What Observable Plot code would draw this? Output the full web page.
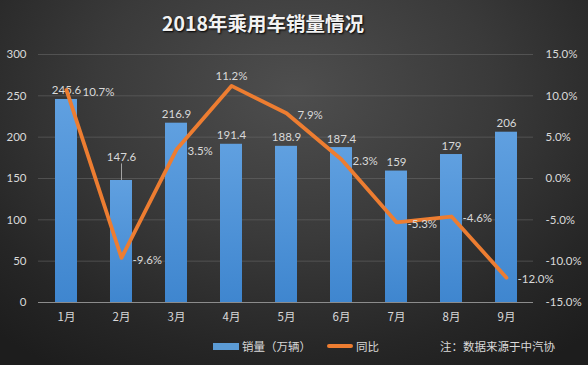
<!DOCTYPE html>
<html>
<head>
<meta charset="utf-8">
<script src="https://cdn.jsdelivr.net/npm/d3@7"></script>
<script src="https://cdn.jsdelivr.net/npm/@observablehq/plot@0.6"></script>
<style>
  html, body { margin: 0; padding: 0; }
  #wrap {
    width: 588px; height: 365px; overflow: hidden; position: relative;
    background: radial-gradient(ellipse 75% 90% at 50% 25%, #4e4e4e 0%, #3a3a3a 45%, #262626 80%, #1d1d1d 100%);
    font-family: Lato, "Noto Sans CJK SC", sans-serif;
  }
  #title {
    height: 40px; line-height: 46px; padding-left: 162px; color: #f2f2f2;
    font-family: "Noto Sans CJK SC", sans-serif; font-weight: bold; font-size: 19.5px;
    text-shadow: 1px 1px 2px #000;
  }
  #chart { height: 290px; }
  #legend {
    position: absolute; top: 336px; left: 0; width: 588px; height: 20px;
    color: #d9d9d9; font-size: 11.5px; font-family: "Noto Sans CJK SC", sans-serif;
  }
  .item { position: absolute; top: 0; display: flex; align-items: center; height: 20px; }
  .sw { display: inline-block; width: 26px; margin-right: 3px; }
</style>
</head>
<body>
<div id="wrap">
  <div id="title">2018年乘用车销量情况</div>
  <div id="chart"></div>
  <div id="legend">
    <div class="item" style="left:213px"><span class="sw" style="height:7px;background:#5b9bd5"></span>销量（万辆）</div>
    <div class="item" style="left:327px"><span class="sw" style="height:4px;background:#ed7d31;border-radius:2px"></span>同比</div>
    <div class="item" style="left:440px">注：数据来源于中汽协</div>
  </div>
</div>
<script>
const months = ["1月","2月","3月","4月","5月","6月","7月","8月","9月"];
const sales = [245.6, 147.6, 216.9, 191.4, 188.9, 187.4, 159, 179, 206];
const yoy = [10.7, -9.6, 3.5, 11.2, 7.9, 2.3, -5.3, -4.6, -12.0];
const leftTicks = [0, 50, 100, 150, 200, 250, 300];
const rightTicks = [-15, -10, -5, 0, 5, 10, 15];

// map percent onto the left (sales) scale domain [0,300] <-> [-15%,15%]
const pctToY = p => (p + 15) * 10;

const data = months.map((m, i) => ({month: m, sales: sales[i], yoy: yoy[i], yp: pctToY(yoy[i])}));

const txt = {fill: "#d9d9d9", fontSize: 11.5, fontFamily: "Lato, 'Noto Sans CJK SC', sans-serif"};
const pctLabel = d => d.yoy.toFixed(1) + "%";

const plot = Plot.plot({
  width: 588,
  height: 290,
  marginTop: 14,
  marginBottom: 28,
  marginLeft: 38,
  marginRight: 55,
  style: {background: "transparent", color: "#d9d9d9", fontSize: "11.5px", fontFamily: "Lato, 'Noto Sans CJK SC', sans-serif", overflow: "visible"},
  x: {domain: months, paddingInner: 0.6, paddingOuter: 0.3, label: null},
  y: {domain: [0, 300], label: null},
  marks: [
    Plot.gridY(leftTicks.filter(d => d > 0), {stroke: "#6a6a6a", strokeOpacity: 0.7, strokeWidth: 0.8}),
    Plot.barY(data, {x: "month", y: "sales", fill: "url(#barGrad)"}),
    Plot.ruleY([0], {stroke: "#8c8c8c", strokeWidth: 1}),
    Plot.axisY({anchor: "left", ticks: leftTicks, tickSize: 0, tickPadding: 12, label: null, ...txt}),
    Plot.axisY({anchor: "right", ticks: rightTicks.map(pctToY), tickSize: 0, tickPadding: 12, label: null,
      tickFormat: d => (d / 10 - 15).toFixed(1) + "%", ...txt}),
    Plot.axisX({tickSize: 0, tickPadding: 10, label: null, ...txt, fontFamily: "'Noto Sans CJK SC', sans-serif"}),
    // leader line for the Feb label
    Plot.ruleX(data.filter(d => d.month === "2月"), {x: "month", y1: "sales", y2: d => d.sales + 20, stroke: "#bfbfbf", strokeWidth: 0.8}),
    Plot.text(data.filter(d => d.month !== "2月"), {x: "month", y: "sales", text: d => String(d.sales), ...txt, lineAnchor: "bottom", dy: -5}),
    Plot.text(data.filter(d => d.month === "2月"), {x: "month", y: d => d.sales + 20, text: d => String(d.sales), ...txt, lineAnchor: "bottom", dy: -3}),
    Plot.line(data, {x: "month", y: "yp", stroke: "#ed7d31", strokeWidth: 3.8, strokeLinejoin: "round", strokeLinecap: "round"}),
    Plot.text(data.filter(d => d.month === "1月"), {x: "month", y: "yp", text: pctLabel, ...txt, textAnchor: "start", dx: 16, dy: 2}),
    Plot.text(data.filter(d => d.month !== "4月" && d.month !== "1月"), {x: "month", y: "yp", text: pctLabel, ...txt, textAnchor: "start", dx: 11, dy: 2}),
    Plot.text(data.filter(d => d.month === "4月"), {x: "month", y: "yp", text: pctLabel, ...txt, lineAnchor: "bottom", dy: -6})
  ]
});

// gradient for bars
const ns = "http://www.w3.org/2000/svg";
const defs = document.createElementNS(ns, "defs");
defs.innerHTML = '<linearGradient id="barGrad" x1="0" y1="0" x2="0" y2="1"><stop offset="0" stop-color="#60a0e0"/><stop offset="1" stop-color="#3f86cf"/></linearGradient>';
plot.insertBefore(defs, plot.firstChild);

document.getElementById("chart").appendChild(plot);
</script>
</body>
</html>
